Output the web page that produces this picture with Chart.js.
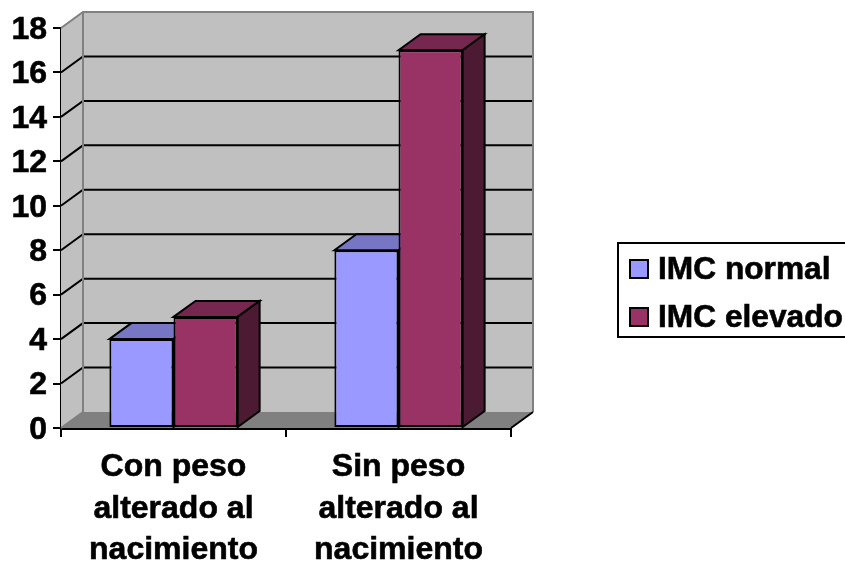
<!DOCTYPE html>
<html>
<head>
<meta charset="utf-8">
<title>IMC</title>
<script src="https://cdn.jsdelivr.net/npm/chart.js@4"></script>
<style>
  html, body { margin: 0; padding: 0; background: #fff; overflow: hidden; }
  canvas { display: block; }
</style>
</head>
<body>
<canvas id="grafico" width="845" height="563"></canvas>
<script>
const categorias = [
  ["Con peso", "alterado al", "nacimiento"],
  ["Sin peso", "alterado al", "nacimiento"]
];
const imcNormal = [4, 8];
const imcElevado = [5, 17];

const COR_NORMAL = "#9999FF";
const COR_ELEVADO = "#993366";
const FAMILIA = "'Liberation Sans', Arial, sans-serif";

// deslocamento da perspectiva (profundidade do grafico 3D)
const DX = 22;
const DY = 16;

function poly(ctx, pts, fill, stroke, lw) {
  ctx.beginPath();
  pts.forEach((p, i) => i ? ctx.lineTo(p[0], p[1]) : ctx.moveTo(p[0], p[1]));
  ctx.closePath();
  if (fill) { ctx.fillStyle = fill; ctx.fill(); }
  if (stroke) { ctx.strokeStyle = stroke; ctx.lineWidth = lw; ctx.stroke(); }
}

function escurece(hex, f) {
  const n = parseInt(hex.slice(1), 16);
  const c = [n >> 16, (n >> 8) & 255, n & 255].map(v => Math.round(v * f));
  return `rgb(${c[0]},${c[1]},${c[2]})`;
}

// paredes, piso e linhas de grade
const paredes = {
  id: "paredes",
  beforeDatasetsDraw(chart) {
    const { ctx, chartArea: a, scales } = chart;
    const { left: l, right: r, top: t, bottom: b } = a;
    ctx.save();
    poly(ctx, [[l, t], [l + DX, t - DY], [l + DX, b - DY], [l, b]], "#C0C0C0");
    poly(ctx, [[l + DX, t - DY], [r + DX, t - DY], [r + DX, b - DY], [l + DX, b - DY]], "#C0C0C0");
    poly(ctx, [[l, b], [l + DX, b - DY], [r + DX, b - DY], [r, b]], "#808080");

    ctx.strokeStyle = "#000";
    ctx.lineWidth = 2;
    scales.y.ticks.forEach(tk => {
      if (tk.value === 0 || tk.value === scales.y.max) return;
      const y = scales.y.getPixelForValue(tk.value);
      ctx.beginPath();
      ctx.moveTo(l, y);
      ctx.lineTo(l + DX, y - DY);
      ctx.lineTo(r + DX, y - DY);
      ctx.stroke();
    });

    ctx.strokeStyle = "#808080";
    ctx.beginPath();
    ctx.moveTo(l, t);
    ctx.lineTo(l + DX, t - DY);
    ctx.lineTo(r + DX, t - DY);
    ctx.lineTo(r + DX, b - DY);
    ctx.moveTo(l + DX, t - DY);
    ctx.lineTo(l + DX, b - DY);
    ctx.lineTo(l, b);
    ctx.stroke();
    ctx.strokeStyle = "#000";
    ctx.beginPath();
    ctx.moveTo(r, b);
    ctx.lineTo(r + DX, b - DY);
    ctx.stroke();

    // faces de cima e do lado de cada barra
    chart.data.datasets.forEach((ds, i) => {
      chart.getDatasetMeta(i).data.forEach(bar => {
        const x0 = bar.x - bar.width / 2;
        const x1 = bar.x + bar.width / 2;
        const y0 = bar.y;
        const y1 = bar.base;
        poly(ctx, [[x0, y0], [x0 + DX, y0 - DY], [x1 + DX, y0 - DY], [x1, y0]],
          escurece(ds.backgroundColor, 0.77), "#000", 2);
        poly(ctx, [[x1, y0], [x1 + DX, y0 - DY], [x1 + DX, y1 - DY], [x1, y1]],
          escurece(ds.backgroundColor, 0.5), "#000", 2);
      });
    });
    ctx.restore();
  }
};

// desce um pouco os numeros do eixo y
const ajusteRotulos = {
  id: "ajusteRotulos",
  beforeDraw(chart) {
    chart.scales.y.getLabelItems().forEach(item => {
      if (!item.ajustado) {
        item.options.translation[1] += 2;
        item.ajustado = true;
      }
    });
  }
};

// legenda com caixa, encostada na borda direita
const legendaCaixa = {
  id: "legendaCaixa",
  afterDraw(chart) {
    const { ctx } = chart;
    ctx.save();
    ctx.strokeStyle = "#000";
    ctx.lineWidth = 2;
    ctx.strokeRect(618, 243, 240, 94);
    ctx.font = `bold 31.7px ${FAMILIA}`;
    ctx.textBaseline = "middle";
    chart.data.datasets.forEach((ds, i) => {
      const y = 269 + i * 48;
      ctx.fillStyle = ds.backgroundColor;
      ctx.strokeStyle = "#000";
      ctx.lineWidth = 2;
      ctx.fillRect(630, y - 9, 18, 18);
      ctx.strokeRect(630, y - 9, 18, 18);
      ctx.fillStyle = "#000";
      ctx.lineWidth = 0.6;
      ctx.fillText(ds.label, 658, y + 1);
      ctx.strokeText(ds.label, 658, y + 1);
    });
    ctx.restore();
  }
};

new Chart(document.getElementById("grafico"), {
  type: "bar",
  data: {
    labels: categorias,
    datasets: [
      { label: "IMC normal", data: imcNormal, backgroundColor: COR_NORMAL },
      { label: "IMC elevado", data: imcElevado, backgroundColor: COR_ELEVADO }
    ]
  },
  options: {
    responsive: false,
    animation: false,
    layout: { padding: { left: 0, right: 334, top: 28, bottom: 0 } },
    datasets: {
      bar: {
        categoryPercentage: 0.57,
        barPercentage: 1,
        borderColor: "#000",
        borderWidth: 2,
        borderSkipped: false
      }
    },
    plugins: { legend: { display: false }, title: { display: false }, tooltip: { enabled: false } },
    scales: {
      x: {
        afterFit(scale) { scale.height = 135; },
        border: { color: "#000", width: 3 },
        grid: { drawOnChartArea: false, tickColor: "#000", tickLength: 9, lineWidth: 2 },
        ticks: {
          color: "#000",
          padding: 10,
          maxRotation: 0,
          textStrokeColor: "#000",
          textStrokeWidth: 0.6,
          font: { family: FAMILIA, size: 32, weight: "bold", lineHeight: 1.29 }
        }
      },
      y: {
        min: 0,
        max: 18,
        afterFit(scale) { scale.width = 61; },
        border: { color: "#000", width: 2 },
        grid: { drawOnChartArea: false, tickColor: "#000", tickLength: 8, lineWidth: 2 },
        ticks: {
          stepSize: 2,
          color: "#000",
          padding: 6,
          textStrokeColor: "#000",
          textStrokeWidth: 0.6,
          font: { family: FAMILIA, size: 32, weight: "bold" }
        }
      }
    }
  },
  plugins: [ajusteRotulos, paredes, legendaCaixa]
});
</script>
</body>
</html>
